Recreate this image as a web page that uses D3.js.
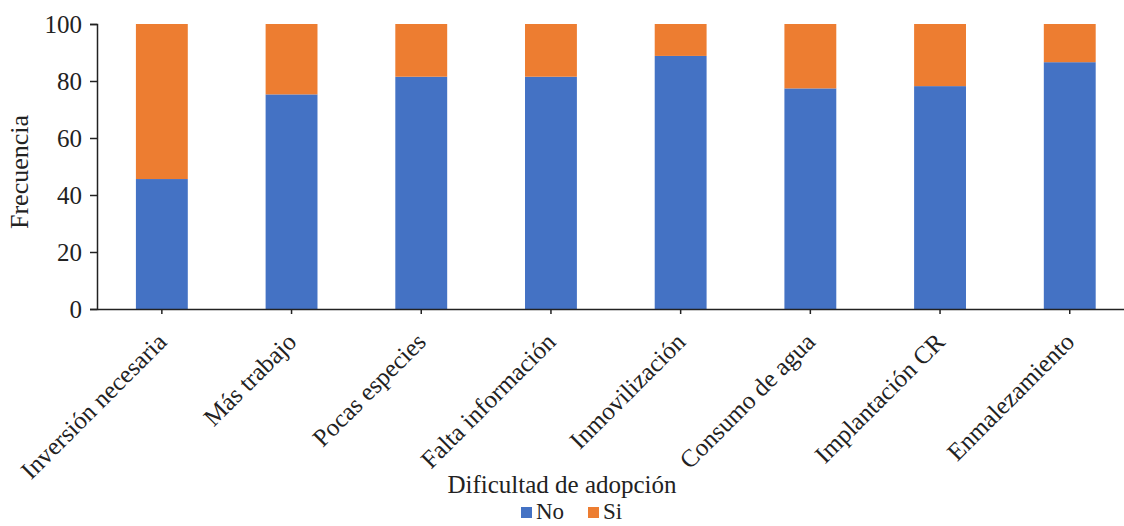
<!DOCTYPE html>
<html>
<head>
<meta charset="utf-8">
<script src="https://cdn.jsdelivr.net/npm/d3@7"></script>
<style>
  html, body { margin: 0; padding: 0; background: #fff; }
  svg { display: block; }
  svg text { font-family: "Liberation Serif", "Times New Roman", serif; }
</style>
</head>
<body>
<svg id="chart" width="1124" height="526"></svg>
<script>
// Dificultad de adopción: frecuencia de respuestas No / Si
const categories = [
  "Inversión necesaria", "Más trabajo", "Pocas especies", "Falta información",
  "Inmovilización", "Consumo de agua", "Implantación CR", "Enmalezamiento"
];
const noValues = [45.6, 75.3, 81.5, 81.5, 88.8, 77.4, 78.2, 86.6];
const siValues = [54.4, 24.7, 18.5, 18.5, 11.2, 22.6, 21.8, 13.4];
const seriesNames = ["No", "Si"];
const seriesColors = ["#4472C4", "#ED7D31"];
const yTicks = [0, 20, 40, 60, 80, 100];

const svg = d3.select("#chart");
const plotLeft = 97, plotRight = 1134.6, plotTop = 24, plotBottom = 309;
const serif = "Liberation Serif, Times New Roman, serif";
const ink = "#222";

const rows = categories.map((c, i) => ({ cat: c, No: noValues[i], Si: siValues[i] }));
const stacked = d3.stack().keys(seriesNames)(rows);

const x = d3.scaleBand().domain(categories).range([plotLeft, plotRight])
  .paddingInner(0.6).paddingOuter(0.3);
const y = d3.scaleLinear().domain([0, 100]).range([plotBottom, plotTop]);
const color = d3.scaleOrdinal().domain(seriesNames).range(seriesColors);

// stacked bars
svg.append("g").selectAll("g")
  .data(stacked)
  .join("g")
  .attr("fill", d => color(d.key))
  .selectAll("rect")
  .data(d => d)
  .join("rect")
  .attr("x", d => x(d.data.cat))
  .attr("width", x.bandwidth())
  .attr("y", d => y(d[1]))
  .attr("height", d => y(d[0]) - y(d[1]));

// y axis
const yAxis = svg.append("g")
  .attr("transform", `translate(${plotLeft},0)`)
  .call(d3.axisLeft(y).tickValues(yTicks).tickSize(7).tickPadding(8).tickFormat(d3.format("d")));
yAxis.attr("font-family", serif);
yAxis.select(".domain").attr("stroke", ink).attr("stroke-width", 1.5);
yAxis.selectAll(".tick line").attr("stroke", ink).attr("stroke-width", 1.5);
yAxis.selectAll("text").attr("font-size", 25).attr("fill", ink).attr("font-family", serif);

// x axis
const xAxis = svg.append("g")
  .attr("transform", `translate(0,${plotBottom})`)
  .call(d3.axisBottom(x).tickSize(5).tickSizeOuter(0));
xAxis.attr("font-family", serif);
xAxis.select(".domain").attr("stroke", ink).attr("stroke-width", 1.5);
xAxis.selectAll(".tick line").attr("stroke", ink).attr("stroke-width", 1.5);
xAxis.selectAll("text")
  .attr("font-size", 25).attr("fill", ink).attr("font-family", serif)
  .attr("text-anchor", "end")
  .attr("x", -20).attr("y", 20).attr("dy", "0.35em")
  .attr("transform", "rotate(-45)");

// axis titles
svg.append("text")
  .attr("transform", "translate(28,172) rotate(-90)")
  .attr("text-anchor", "middle")
  .attr("font-family", serif)
  .attr("font-size", 26).attr("fill", ink)
  .text("Frecuencia");

svg.append("text")
  .attr("x", 562).attr("y", 493)
  .attr("text-anchor", "middle")
  .attr("font-family", serif)
  .attr("font-size", 25).attr("fill", ink)
  .text("Dificultad de adopción");

// legend
const legendX = [521, 588];
const legend = svg.append("g").selectAll("g")
  .data(seriesNames)
  .join("g")
  .attr("transform", (d, i) => `translate(${legendX[i]},507)`);
legend.append("rect").attr("width", 11).attr("height", 11).attr("fill", d => color(d));
legend.append("text").attr("x", 15).attr("y", 12)
  .attr("font-family", serif)
  .attr("font-size", 23).attr("fill", ink).text(d => d);
</script>
</body>
</html>
